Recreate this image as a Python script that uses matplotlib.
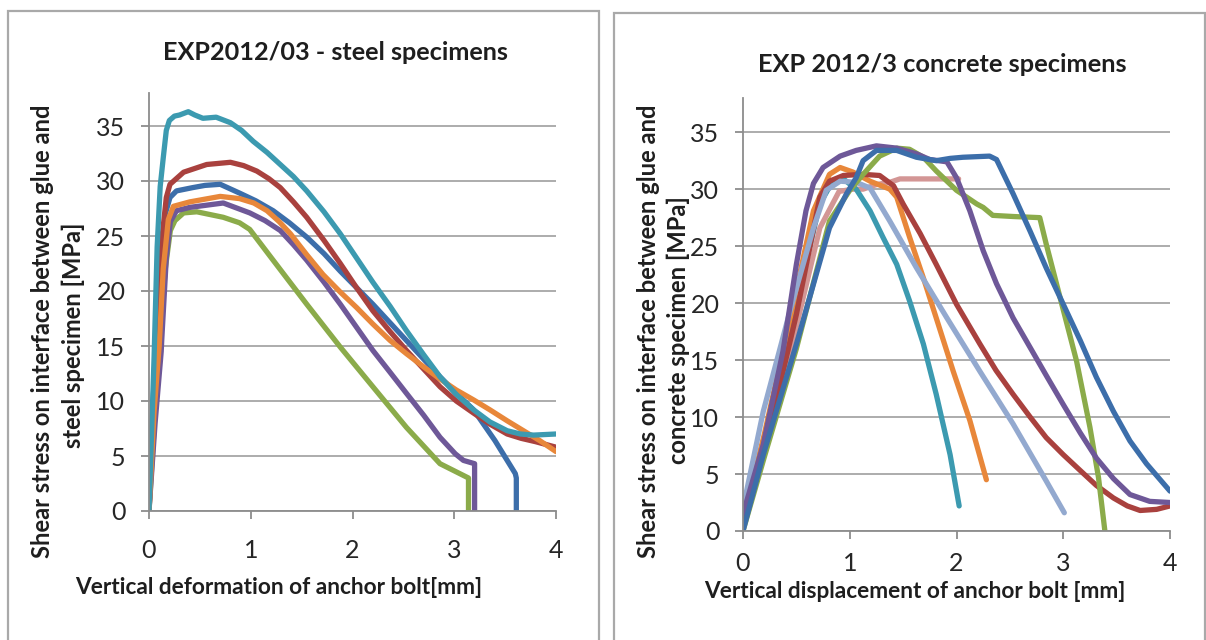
import matplotlib
matplotlib.use('Agg')
import matplotlib.pyplot as plt
from matplotlib.patches import Rectangle

plt.rcParams['font.family'] = ['Lato', 'DejaVu Sans']

# ---------------- data: left panel (steel specimens) ----------------
L_teal_x = [0, 0.05, 0.08, 0.11, 0.14, 0.17, 0.20, 0.25, 0.30, 0.386, 0.45, 0.53, 0.66, 0.80, 0.91, 1.025, 1.16, 1.29, 1.42, 1.55, 1.72, 1.88, 2.04, 2.20, 2.37, 2.53, 2.70, 2.86, 3.02, 3.19, 3.35, 3.52, 3.65, 3.78, 4.0]
L_teal_y = [0, 14, 24, 29.5, 32.1, 34.6, 35.5, 35.9, 36.0, 36.3, 36.0, 35.7, 35.8, 35.3, 34.6, 33.6, 32.6, 31.5, 30.4, 29.1, 27.2, 25.2, 23.0, 20.8, 18.6, 16.4, 14.2, 12.2, 10.6, 9.2, 8.1, 7.3, 7.0, 6.9, 7.0]

L_blue_x = [0, 0.04, 0.08, 0.12, 0.16, 0.206, 0.27, 0.43, 0.55, 0.70, 0.89, 1.05, 1.22, 1.38, 1.55, 1.72, 1.88, 2.04, 2.20, 2.37, 2.53, 2.70, 2.86, 3.02, 3.19, 3.40, 3.60, 3.61, 3.61]
L_blue_y = [0, 10, 17, 23, 27, 28.5, 29.1, 29.4, 29.6, 29.7, 28.9, 28.2, 27.3, 26.2, 24.9, 23.4, 21.8, 20.3, 18.8, 17.1, 15.5, 13.8, 12.2, 10.7, 9.2, 6.4, 3.4, 3.0, 0]

L_red_x = [0, 0.05, 0.09, 0.13, 0.17, 0.206, 0.34, 0.567, 0.80, 0.93, 1.06, 1.18, 1.29, 1.42, 1.55, 1.72, 1.88, 2.04, 2.20, 2.37, 2.53, 2.70, 2.86, 3.02, 3.19, 3.35, 3.52, 3.66, 3.80, 4.0]
L_red_y = [0, 10, 18, 25, 28.5, 29.7, 30.8, 31.5, 31.7, 31.4, 30.9, 30.2, 29.4, 28.1, 26.7, 24.6, 22.5, 20.3, 18.2, 16.3, 14.6, 12.9, 11.3, 10.0, 8.9, 7.9, 7.0, 6.6, 6.3, 5.8]

L_orange_x = [0, 0.05, 0.10, 0.14, 0.19, 0.24, 0.40, 0.70, 0.89, 1.03, 1.16, 1.28, 1.39, 1.55, 1.71, 1.88, 2.04, 2.20, 2.37, 2.53, 2.70, 2.86, 3.02, 3.19, 3.35, 3.52, 3.68, 3.84, 4.0]
L_orange_y = [0, 9, 15, 22, 26.5, 27.7, 28.1, 28.6, 28.4, 28.0, 27.3, 26.3, 25.2, 23.3, 21.5, 19.9, 18.5, 17.0, 15.5, 14.3, 13.1, 12.0, 11.0, 10.1, 9.2, 8.2, 7.3, 6.4, 5.4]

L_purple_x = [0, 0.06, 0.12, 0.125, 0.17, 0.21, 0.27, 0.40, 0.73, 0.99, 1.14, 1.29, 1.42, 1.55, 1.72, 1.88, 2.04, 2.20, 2.37, 2.53, 2.70, 2.86, 3.01, 3.09, 3.20, 3.20]
L_purple_y = [0, 8, 14.5, 15.5, 23, 26.3, 27.3, 27.6, 28.0, 27.1, 26.4, 25.5, 24.2, 22.8, 20.8, 18.8, 16.7, 14.6, 12.6, 10.7, 8.7, 6.7, 5.2, 4.6, 4.3, 0]

L_green_x = [0, 0.06, 0.11, 0.16, 0.21, 0.255, 0.34, 0.47, 0.73, 0.89, 0.99, 1.22, 1.55, 1.88, 2.20, 2.53, 2.86, 3.14, 3.14]
L_green_y = [0, 9, 16, 22, 25.5, 26.4, 27.1, 27.2, 26.7, 26.2, 25.6, 22.8, 18.8, 14.9, 11.3, 7.6, 4.3, 3.0, 0]

# ---------------- data: right panel (concrete specimens) ----------------
R_blue_x = [0, 0.19, 0.5, 0.81, 0.97, 1.06, 1.125, 1.25, 1.44, 1.625, 1.81, 1.94, 2.06, 2.31, 2.375, 2.53, 2.69, 2.84, 3.0, 3.16, 3.31, 3.47, 3.625, 3.78, 4.0]
R_blue_y = [0, 6.7, 16.4, 26.6, 29.6, 31.0, 32.5, 33.4, 33.4, 32.8, 32.5, 32.7, 32.8, 32.9, 32.6, 29.6, 26.3, 23.1, 19.9, 16.7, 13.5, 10.5, 7.9, 5.9, 3.5]

R_purple_x = [0, 0.19, 0.375, 0.5, 0.59, 0.66, 0.75, 0.91, 1.06, 1.25, 1.44, 1.625, 1.75, 1.91, 2.0, 2.125, 2.25, 2.375, 2.53, 2.69, 2.85, 3.0, 3.16, 3.31, 3.47, 3.625, 3.81, 4.0]
R_purple_y = [1.5, 7.6, 15.8, 23.4, 28.1, 30.5, 31.9, 32.9, 33.4, 33.8, 33.6, 33.1, 32.6, 32.4, 31.0, 28.1, 24.6, 21.7, 18.7, 16.1, 13.5, 11.1, 8.6, 6.4, 4.6, 3.2, 2.6, 2.5]

R_green_x = [0, 0.2, 0.5, 0.81, 1.0, 1.125, 1.28, 1.44, 1.56, 1.69, 1.81, 2.0, 2.19, 2.25, 2.34, 2.53, 2.78, 2.84, 2.97, 3.125, 3.25, 3.33, 3.39]
R_green_y = [0, 6.5, 16, 27.2, 29.9, 31.3, 32.9, 33.6, 33.5, 32.8, 31.6, 29.9, 28.7, 28.4, 27.7, 27.6, 27.5, 25.2, 20.5, 14.9, 9.1, 4.7, 0]

R_red_x = [0, 0.2, 0.5, 0.72, 0.81, 0.94, 1.125, 1.28, 1.41, 1.5, 1.66, 1.81, 2.0, 2.22, 2.37, 2.53, 2.69, 2.84, 3.0, 3.16, 3.31, 3.47, 3.6, 3.72, 3.875, 4.0]
R_red_y = [0.5, 7, 19, 29.3, 30.7, 31.2, 31.3, 31.2, 30.3, 28.7, 26.1, 23.4, 19.9, 16.4, 14.1, 12.0, 10.0, 8.2, 6.7, 5.3, 4.0, 2.9, 2.2, 1.8, 1.9, 2.2]

R_orange_x = [0, 0.2, 0.45, 0.66, 0.81, 0.91, 1.03, 1.19, 1.375, 1.44, 1.56, 1.69, 1.81, 1.97, 2.125, 2.28]
R_orange_y = [1.0, 8.5, 19, 28.1, 31.3, 31.9, 31.5, 30.7, 30.0, 29.3, 25.8, 22.2, 18.7, 14.0, 9.7, 4.5]

R_teal_x = [0, 0.3, 0.5, 0.72, 0.84, 0.94, 1.06, 1.19, 1.31, 1.44, 1.56, 1.69, 1.81, 1.94, 2.025]
R_teal_y = [0.5, 11, 20, 28.7, 30.7, 30.9, 30.0, 28.1, 25.8, 23.4, 20.2, 16.4, 12.0, 6.7, 2.2]

R_lblue_x = [0, 0.19, 0.44, 0.66, 0.78, 0.91, 1.06, 1.19, 1.375, 1.625, 1.91, 2.22, 2.53, 2.84, 3.01]
R_lblue_y = [2.0, 10.5, 19.3, 26.6, 29.9, 30.7, 30.6, 30.1, 27.2, 23.1, 18.7, 14.0, 9.4, 4.4, 1.6]

R_pink_x = [0, 0.2, 0.45, 0.72, 0.9, 1.03, 1.125, 1.25, 1.375, 1.47, 1.75, 2.02]
R_pink_y = [1.0, 7, 16, 26.6, 29.8, 30.0, 30.0, 30.4, 30.6, 30.9, 30.9, 30.9]

x_ticks = [0, 1, 2, 3, 4]
y_ticks = [0, 5, 10, 15, 20, 25, 30, 35]

title_left = "EXP2012/03 - steel specimens"
title_right = "EXP 2012/3 concrete specimens"
xlabel_left = "Vertical deformation of anchor bolt[mm]"
xlabel_right = "Vertical displacement of anchor bolt [mm]"
ylabel_left = ["Shear stress on interface between glue and", "steel specimen [MPa]"]
ylabel_right = ["Shear stress on interface between glue and", "concrete specimen [MPa]"]

# ---------------- colours ----------------
C_BLUE = '#3C6EAA'
C_RED = '#A9413E'
C_GREEN = '#8BAB4A'
C_PURPLE = '#6E5898'
C_TEAL = '#3C9AB0'
C_ORANGE = '#E8873A'
C_LBLUE = '#93A9CF'
C_PINK = '#D39695'
TXT = '#1e1e1e'

W, H = 1206, 640
fig = plt.figure(figsize=(W / 100, H / 100), dpi=100)
renderer = fig.canvas.get_renderer()


def px_axes(x0, y0, x1, y1):
    return fig.add_axes([x0 / W, 1 - y1 / H, (x1 - x0) / W, (y1 - y0) / H])


def fit(t, target, dim='w'):
    for _ in range(3):
        bb = t.get_window_extent(renderer)
        cur = bb.width if dim == 'w' else bb.height
        t.set_fontsize(t.get_fontsize() * target / cur)


# panel frames
for (x0, y0, x1) in [(8, 11, 599), (614, 13, 1205)]:
    fig.patches.append(Rectangle((x0 / W, -0.2), (x1 - x0) / W, 1 - y0 / H + 0.2,
                                 transform=fig.transFigure, fill=False,
                                 edgecolor='#a9a9a9', lw=1.6))

axL = px_axes(149, 93, 556, 511)
axR = px_axes(743, 98, 1170, 531)

LW = 3.8
kw = dict(lw=LW, solid_joinstyle='round', solid_capstyle='round')

axL.plot(L_blue_x, L_blue_y, color=C_BLUE, **kw)
axL.plot(L_red_x, L_red_y, color=C_RED, **kw)
axL.plot(L_green_x, L_green_y, color=C_GREEN, **kw)
axL.plot(L_purple_x, L_purple_y, color=C_PURPLE, **kw)
axL.plot(L_orange_x, L_orange_y, color=C_ORANGE, **kw)
axL.plot(L_teal_x, L_teal_y, color=C_TEAL, **kw)

axR.plot(R_pink_x, R_pink_y, color=C_PINK, **kw)
axR.plot(R_teal_x, R_teal_y, color=C_TEAL, **kw)
axR.plot(R_orange_x, R_orange_y, color=C_ORANGE, **kw)
axR.plot(R_red_x, R_red_y, color=C_RED, **kw)
axR.plot(R_lblue_x, R_lblue_y, color=C_LBLUE, **kw)
axR.plot(R_green_x, R_green_y, color=C_GREEN, **kw)
axR.plot(R_purple_x, R_purple_y, color=C_PURPLE, **kw)
axR.plot(R_blue_x, R_blue_y, color=C_BLUE, **kw)

for ax, xpad in [(axL, 14), (axR, 9)]:
    ax.set_xlim(0, 4)
    ax.set_ylim(0, 38)
    ax.set_xticks(x_ticks)
    ax.set_yticks(y_ticks)
    for s in ['top', 'right']:
        ax.spines[s].set_visible(False)
    for s in ['left', 'bottom']:
        ax.spines[s].set_color('#8c8c8c')
        ax.spines[s].set_linewidth(1.3)
    ax.yaxis.grid(True, color='#a6a6a6', lw=1.3)
    ax.set_axisbelow(True)
    ax.tick_params(axis='both', direction='out', length=6, width=1.3,
                   color='#8c8c8c', labelsize=18, labelcolor='#262626')
    ax.tick_params(axis='y', pad=11)
    ax.tick_params(axis='x', pad=xpad)
    for lab in ax.get_xticklabels() + ax.get_yticklabels():
        lab.set_clip_on(False)

# titles
t = fig.text(335 / W, 1 - 53 / H, title_left, ha='center', va='center',
             fontweight='bold', color=TXT, fontsize=16)
fit(t, 345)
t = fig.text(942 / W, 1 - 65 / H, title_right, ha='center', va='center',
             fontweight='bold', color=TXT, fontsize=16)
fit(t, 369)

# x labels
t = fig.text(279 / W, 1 - 588 / H, xlabel_left, ha='center', va='center',
             fontweight='bold', color=TXT, fontsize=15)
fit(t, 407)
t = fig.text(915 / W, 1 - 591 / H, xlabel_right, ha='center', va='center',
             fontweight='bold', color=TXT, fontsize=15)
fit(t, 421)

# y labels (two lines each)
t = fig.text(43 / W, 1 - 331 / H, ylabel_left[0], rotation=90, ha='center', va='center',
             fontweight='bold', color=TXT, fontsize=16)
fit(t, 457, 'h')
fs = t.get_fontsize()
fig.text(73 / W, 1 - 335 / H, ylabel_left[1], rotation=90, ha='center', va='center',
         fontweight='bold', color=TXT, fontsize=fs)
t = fig.text(648 / W, 1 - 331 / H, ylabel_right[0], rotation=90, ha='center', va='center',
             fontweight='bold', color=TXT, fontsize=16)
fit(t, 457, 'h')
fs = t.get_fontsize()
fig.text(678 / W, 1 - 330 / H, ylabel_right[1], rotation=90, ha='center', va='center',
         fontweight='bold', color=TXT, fontsize=fs)

fig.savefig('out.png', dpi=100)
